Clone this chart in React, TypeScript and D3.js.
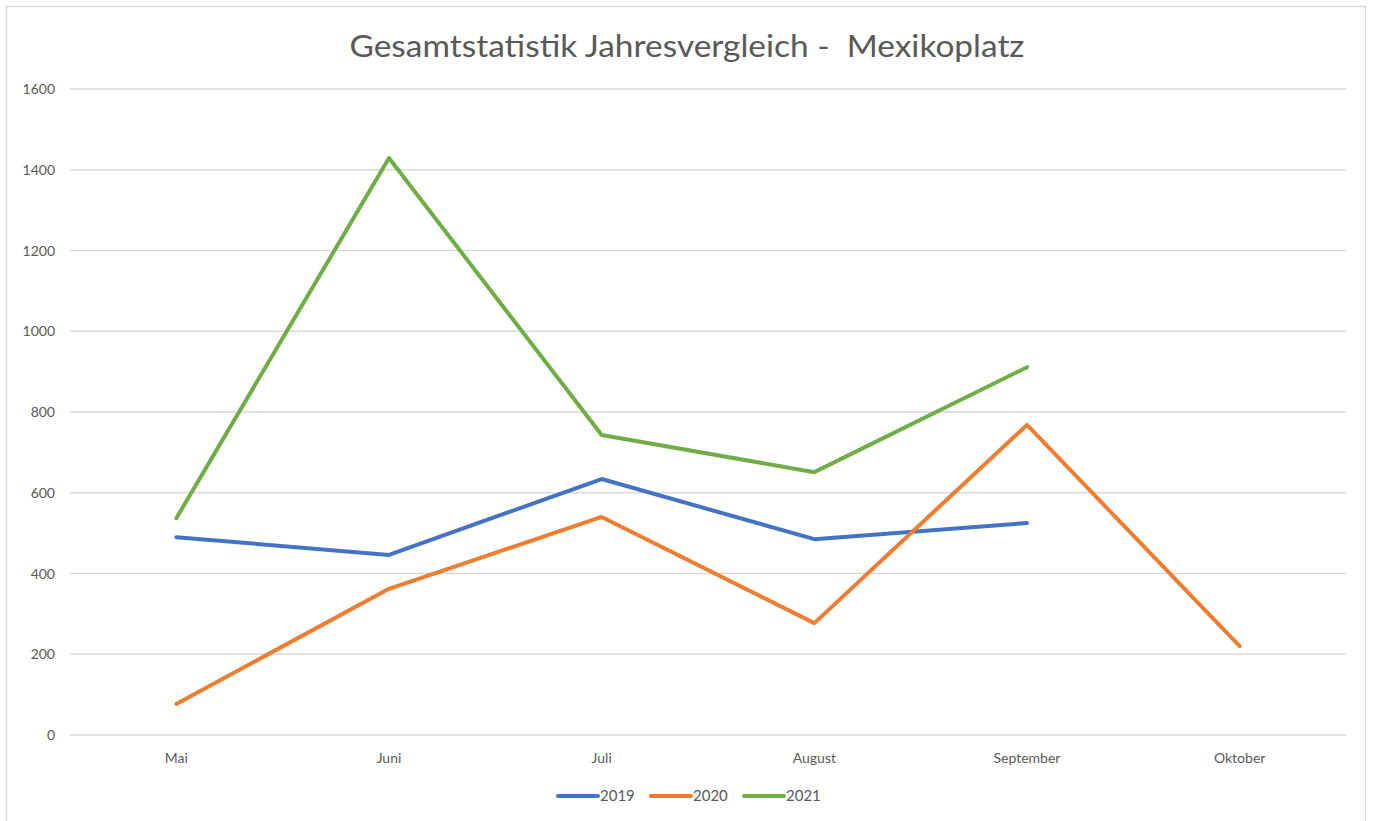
import React from "react";
import * as d3 from "d3";

const months = ["Mai", "Juni", "Juli", "August", "September", "Oktober"];
const yTicks = [0, 200, 400, 600, 800, 1000, 1200, 1400, 1600];
const values2019 = [490, 446, 634, 485, 525];
const values2020 = [77, 362, 540, 277, 768, 220];
const values2021 = [537, 1429, 743, 651, 911];
const seriesNames = ["2019", "2020", "2021"];
const seriesColors = ["#4472C4", "#ED7D31", "#70AD47"];
const title = "Gesamtstatistik Jahresvergleich -  Mexikoplatz";

const W = 1373;
const H = 821;
const FONT = "Lato, 'Open Sans', 'Liberation Sans', sans-serif";

export default function App() {
  const x = d3.scaleBand<string>().domain(months).range([70, 1346]);
  const y = d3.scaleLinear().domain([0, 1600]).range([735, 89]);
  const cx = (m: string) => (x(m) as number) + x.bandwidth() / 2;
  const line = d3
    .line<number>()
    .x((_, i) => cx(months[i]))
    .y((d) => y(d));
  const all = [values2019, values2020, values2021];
  const legendX = [558, 651, 744];

  return (
    <svg
      width={W}
      height={H}
      style={{ position: "absolute", left: 0, top: 0, background: "#fff" }}
      fontFamily={FONT}
    >
      <rect x={0} y={0} width={W} height={H} fill="#fff" />
      <rect x={6.5} y={6.5} width={1359} height={H} fill="#fff" stroke="#d9d9d9" strokeWidth={1.5} />
      <text
        x={687}
        y={57}
        textAnchor="middle"
        fontSize={31}
        fill="#595959"
        textLength={675}
        lengthAdjust="spacingAndGlyphs"
        style={{ whiteSpace: "pre" }}
      >
        {title}
      </text>
      {yTicks.map((t) => (
        <g key={t}>
          <line x1={70} x2={1346} y1={y(t)} y2={y(t)} stroke="#d9d9d9" strokeWidth={1.3} />
          <text x={55} y={y(t) + 5} textAnchor="end" fontSize={14} fill="#595959">
            {t}
          </text>
        </g>
      ))}
      {months.map((m) => (
        <text key={m} x={cx(m)} y={763} textAnchor="middle" fontSize={14} fill="#595959">
          {m}
        </text>
      ))}
      {all.map((vals, i) => (
        <path
          key={i}
          d={line(vals) || ""}
          fill="none"
          stroke={seriesColors[i]}
          strokeWidth={4}
          strokeLinejoin="round"
          strokeLinecap="round"
        />
      ))}
      {seriesNames.map((s, i) => (
        <g key={s}>
          <line
            x1={legendX[i]}
            x2={legendX[i] + 40}
            y1={796}
            y2={796}
            stroke={seriesColors[i]}
            strokeWidth={4}
            strokeLinecap="round"
          />
          <text x={legendX[i] + 42} y={801} fontSize={15} fill="#595959">
            {s}
          </text>
        </g>
      ))}
    </svg>
  );
}
